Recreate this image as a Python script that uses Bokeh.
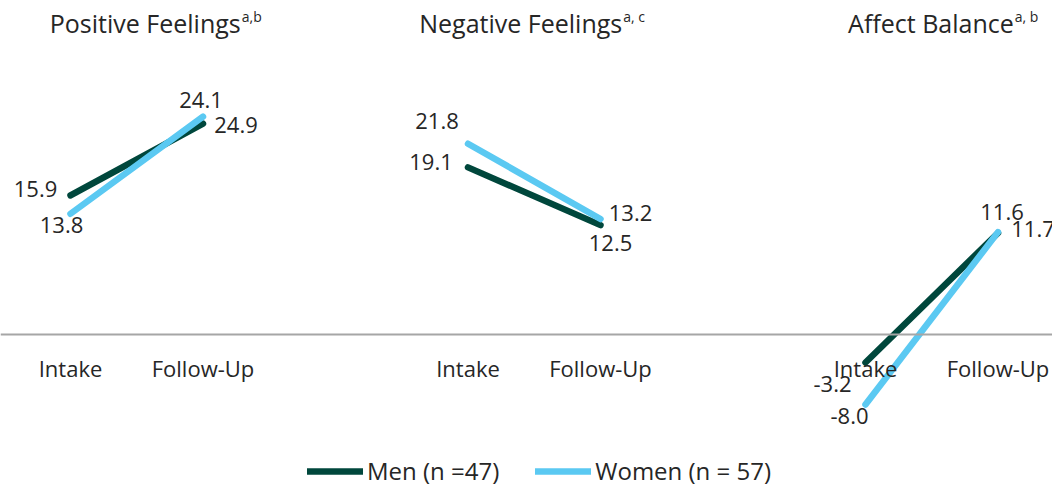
from bokeh.plotting import figure
from bokeh.models import ColumnDataSource, Span, Label, Legend, LegendItem, Range1d
from bokeh.core.properties import value
from bokeh.embed import file_html
from bokeh.resources import INLINE

# ---- data ----
panels = ["Positive Feelings", "Negative Feelings", "Affect Balance"]
panel_notes = ["a,b", "a, c", "a, b"]
timepoints = ["Intake", "Follow-Up"]
men_intake = [15.9, 19.1, -3.2]
men_followup = [24.1, 12.5, 11.6]
women_intake = [13.8, 21.8, -8.0]
women_followup = [24.9, 13.2, 11.7]
series_names = ["Men (n =47)", "Women (n = 57)"]

# ---- style / layout ----
W, H = 1052, 486
FONT = "Open Sans"
TEXT = "#262626"
MEN = "#00473C"
WOMEN = "#5BC9F2"
X0, XS = 70.0, 132.5      # pixel of first slot, pixels per slot
Y0, YS = 152.0, 8.75      # zero line height above bottom, pixels per unit

p = figure(width=W, height=H, output_backend="svg", toolbar_location=None,
           x_range=Range1d(-X0 / XS, (W - X0) / XS),
           y_range=Range1d(-Y0 / YS, (H - Y0) / YS),
           x_axis_location=None, y_axis_location=None,
           min_border=0, outline_line_color=None)
p.grid.visible = False
p.background_fill_color = "white"
p.border_fill_color = "white"

p.add_layout(Span(location=0, dimension="width", line_color="#A6A6A6", line_width=2))

men_r, women_r = [], []
for i in range(len(panels)):
    xs = [3 * i, 3 * i + 1]
    men_r.append(p.line(xs, [men_intake[i], men_followup[i]], line_color=MEN,
                        line_width=6.5, line_cap="round"))
for i in range(len(panels)):
    xs = [3 * i, 3 * i + 1]
    women_r.append(p.line(xs, [women_intake[i], women_followup[i]], line_color=WOMEN,
                          line_width=6.5, line_cap="round"))

# data labels (offsets in pixels, screen y downward)
men_off_in = [(-35, -6), (-37, -5), (-33, 21)]
men_off_fu = [(-2, -24), (10, 18), (4, -21)]
women_off_in = [(-9, 11), (-31, -23), (-16, 11)]
women_off_fu = [(33, 8), (30, -6), (35, -3)]

lx, ly, lt, ldx, ldy = [], [], [], [], []
for i in range(len(panels)):
    for xv, yv, off in [(3 * i, men_intake[i], men_off_in[i]),
                        (3 * i + 1, men_followup[i], men_off_fu[i]),
                        (3 * i, women_intake[i], women_off_in[i]),
                        (3 * i + 1, women_followup[i], women_off_fu[i])]:
        lx.append(xv); ly.append(yv); lt.append(f"{yv:.1f}")
        ldx.append(off[0]); ldy.append(off[1])
lab_src = ColumnDataSource(dict(x=lx, y=ly, text=lt, dx=ldx, dy=ldy))
p.text(x="x", y="y", text="text", x_offset="dx", y_offset="dy", source=lab_src,
       text_font=value(FONT), text_font_size="22px", text_color=TEXT,
       text_align="center", text_baseline="middle")

# category labels
cx, ct = [], []
for i in range(len(panels)):
    for j, t in enumerate(timepoints):
        cx.append(3 * i + j); ct.append(t)
cat_src = ColumnDataSource(dict(x=cx, y=[0] * len(cx), text=ct))
p.text(x="x", y="y", text="text", source=cat_src, y_offset=33,
       text_font=value(FONT), text_font_size="22px", text_color=TEXT,
       text_align="center", text_baseline="middle")

# panel titles with superscripts
title_dx = [104, 88, 82]
for i, (t, n) in enumerate(zip(panels, panel_notes)):
    p.add_layout(Label(x=3 * i + 0.5, y=H - 22, y_units="screen", text=t,
                       x_offset=title_dx[i], text_align="right", text_baseline="alphabetic",
                       text_font=FONT, text_font_size="25px", text_color=TEXT))
    p.add_layout(Label(x=3 * i + 0.5, y=H - 16, y_units="screen", text=n,
                       x_offset=title_dx[i] + 1, text_align="left", text_baseline="alphabetic",
                       text_font=FONT, text_font_size="14px", text_color=TEXT))

legend = Legend(items=[LegendItem(label=series_names[0], renderers=[men_r[0]]),
                       LegendItem(label=series_names[1], renderers=[women_r[0]])],
                orientation="horizontal", location=(307, -1),
                glyph_width=56, glyph_height=24, label_standoff=4, spacing=36,
                padding=0, margin=0, border_line_color=None, background_fill_alpha=0,
                label_text_font=FONT, label_text_font_size="24px", label_text_color=TEXT)
p.add_layout(legend)

html = file_html(p, INLINE)
html = html.replace("<head>", "<head><style>html,body{margin:0;padding:0;overflow:hidden}</style>", 1)
open("out.html", "w").write(html)
